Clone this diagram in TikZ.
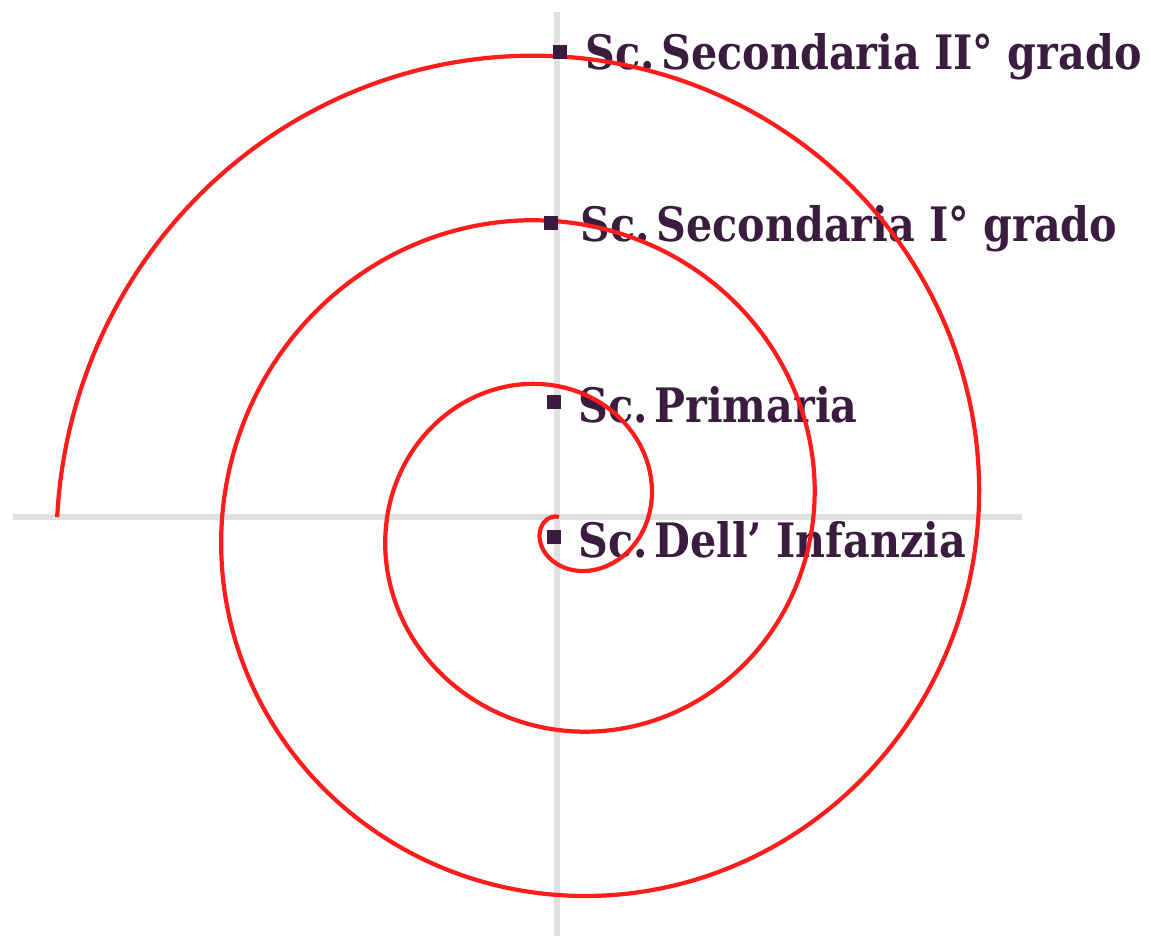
\documentclass[tikz,border=0pt]{standalone}
\usepackage{fontspec}
\setmainfont{DejaVu Serif}
\usepackage{tikz}
\usetikzlibrary{positioning}
\definecolor{plum}{RGB}{58,28,62}
\definecolor{axisgray}{RGB}{224,224,224}
\definecolor{spiralred}{RGB}{255,28,28}

\begin{document}
\begin{tikzpicture}[x=0.02cm,y=-0.02cm,
  axis/.style={axisgray,line width=3.4pt},
  spiral/.style={spiralred,line width=2.4pt},
  blt/.style={fill=plum,minimum size=0.28cm,inner sep=0pt},
  lbl/.style={plum,font=\bfseries\fontsize{27}{30}\selectfont,anchor=base west,inner sep=0pt,xscale=0.87}]
\useasboundingbox (0,0) rectangle (1151,936);
% axes
\coordinate (vtop) at (557,12);
\coordinate (vbot) at (557,936);
\coordinate (hleft) at (13,517);
\coordinate (hright) at (1022,517);
\draw[axis] (vtop)--(vbot);
\draw[axis] (hleft)--(hright);
% labels
\node[lbl] (t1) at (585,70) {Sc.\,Secondaria II° grado};
\node[lbl] (t2) at (580,241) {Sc.\,Secondaria I° grado};
\node[lbl] (t3) at (578,422) {Sc.\,Primaria};
\node[lbl] (t4) at (578,557) {Sc.\,Dell’ Infanzia};
% spiral
\draw[spiral] plot[domain=-195:900,samples=500,smooth]
  ({559+0.4583*(\x+195)*cos(\x)},{517-0.4583*(\x+195)*sin(\x)});
% bullets
\node[blt] (b1) at (560,52) {};
\node[blt] (b2) at (551,223) {};
\node[blt] (b3) at (554,402) {};
\node[blt] (b4) at (554,537) {};
\end{tikzpicture}
\end{document}
